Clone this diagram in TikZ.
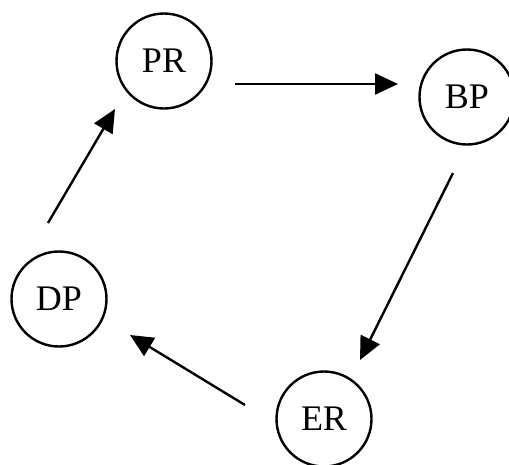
\documentclass[tikz,border=0pt]{standalone}
\usepackage{fontspec}
\setmainfont{Liberation Serif}
\usetikzlibrary{arrows.meta}
\begin{document}
\begin{tikzpicture}[x=1pt,y=-1pt,
  state/.style={circle,draw,line width=2.4pt,minimum size=95pt,inner sep=0pt,font=\fontsize{36}{36}\selectfont},
  flow/.style={line width=2.4pt,-{Triangle[length=23pt,width=21pt]}}]
\useasboundingbox (0,0) rectangle (509,464);
\node[state] (PR) at (164,61) {PR};
\node[state] (BP) at (467,97) {BP};
\node[state] (DP) at (59,299) {DP};
\node[state] (ER) at (324,419) {ER};
\coordinate (a1) at (235,84);
\coordinate (a2) at (398,84);
\coordinate (b1) at (453,173);
\coordinate (b2) at (360,360);
\coordinate (c1) at (245,405);
\coordinate (c2) at (130,335);
\coordinate (d1) at (48,223);
\coordinate (d2) at (115,109);
\draw[flow] (a1) -- (a2);
\draw[flow] (b1) -- (b2);
\draw[flow] (c1) -- (c2);
\draw[flow] (d1) -- (d2);
\end{tikzpicture}
\end{document}
